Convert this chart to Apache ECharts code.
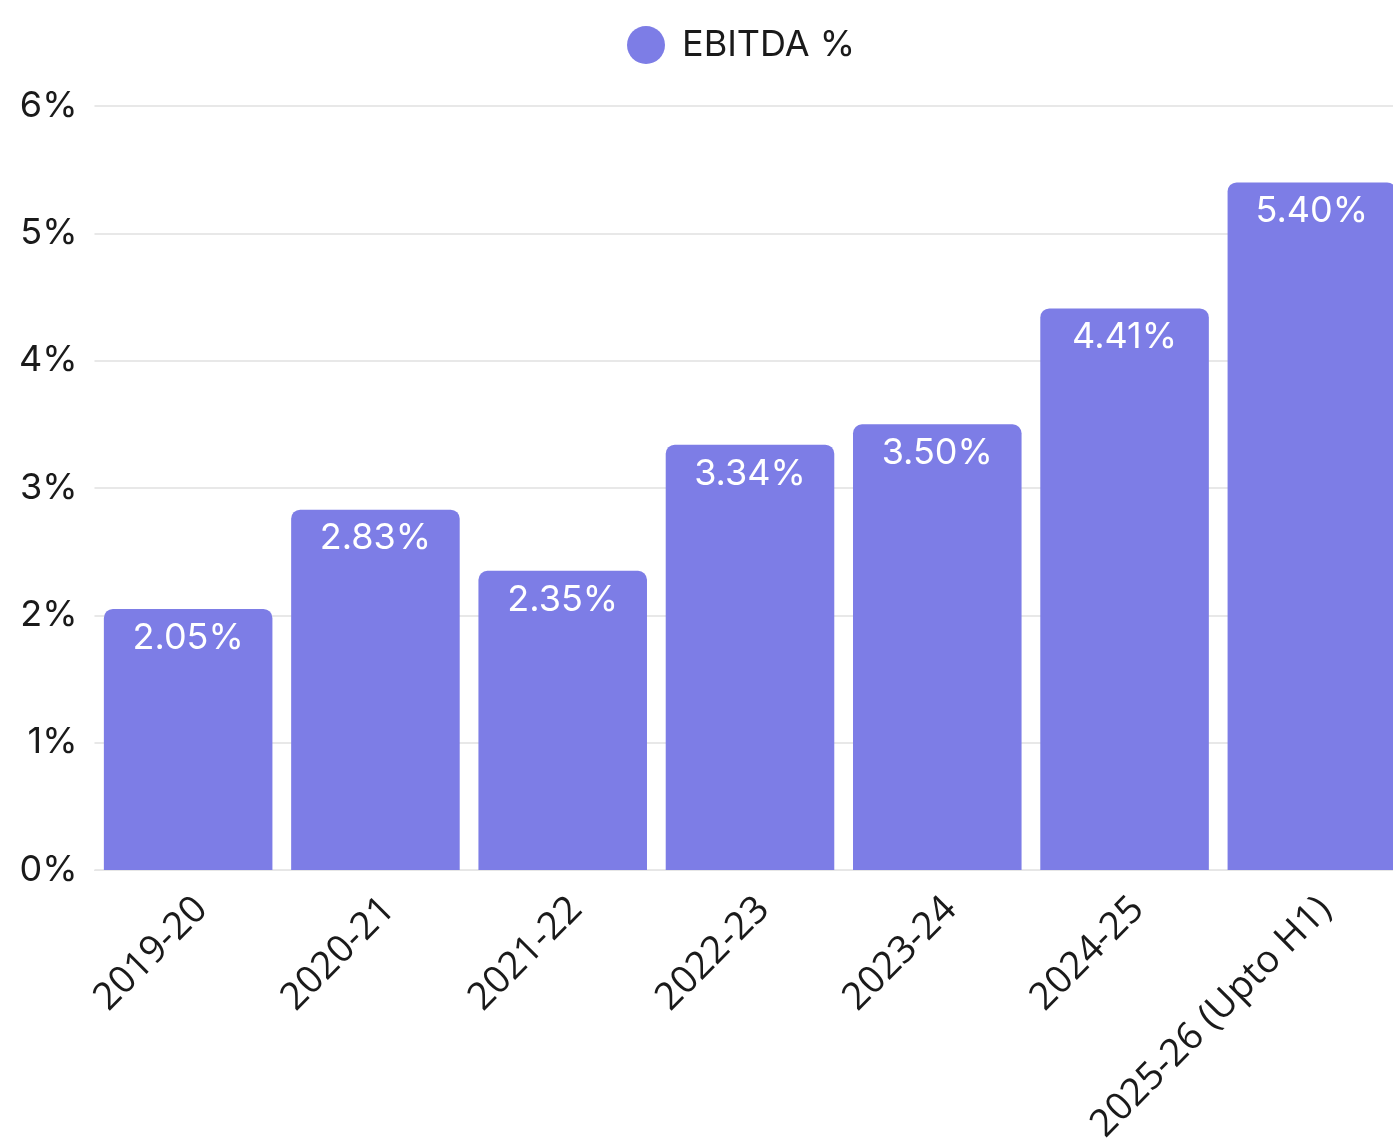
<!DOCTYPE html>
<html>
<head>
<meta charset="utf-8">
<script src="https://cdn.jsdelivr.net/npm/echarts@6/dist/echarts.min.js"></script>
<style>
html,body{margin:0;padding:0;background:#fff;}
#c{width:1393px;height:1141px;}
</style>
</head>
<body>
<div id="c"></div>
<script>
const categories = ['2019-20','2020-21','2021-22','2022-23','2023-24','2024-25','2025-26 (Upto H1)'];
const ebitda = [2.05, 2.83, 2.35, 3.34, 3.50, 4.41, 5.40];
const seriesName = 'EBITDA %';

const chart = echarts.init(document.getElementById('c'), null, {renderer:'canvas'});
const font = 'Inter, "Noto Sans", sans-serif';
chart.setOption({
  animation: false,
  backgroundColor: '#ffffff',
  legend: {
    top: 21, left: 622,
    icon: 'circle', itemWidth: 38, itemHeight: 38, itemGap: 10,
    textStyle: {fontFamily: font, fontSize: 36, color: '#1a1a1a', padding: [0, 0, 0, 12]},
    data: [seriesName]
  },
  grid: {left: 94.5, width: 1311, top: 106, height: 764, containLabel: false, outerBoundsMode: 'none'},
  xAxis: {
    type: 'category', data: categories,
    axisLine: {show: true, lineStyle: {color: '#e6e6e6'}},
    axisTick: {show: false},
    axisLabel: {rotate: 45, interval: 0, margin: 20, verticalAlign: 'top', fontFamily: '"Open Sans", sans-serif', fontSize: 38, color: '#1a1a1a'}
  },
  yAxis: {
    type: 'value', min: 0, max: 6, interval: 1,
    axisLabel: {formatter: '{value}%', fontFamily: font, fontSize: 36, color: '#1a1a1a', margin: 17},
    splitLine: {lineStyle: {color: '#e8e8e8', width: 2}},
    axisLine: {show: false}, axisTick: {show: false}
  },
  series: [{
    name: seriesName, type: 'bar', data: ebitda,
    barCategoryGap: '10%',
    itemStyle: {color: '#7d7de6', borderRadius: [9, 9, 0, 0]},
    label: {
      show: true, position: 'insideTop', distance: 11,
      formatter: p => p.value.toFixed(2) + '%',
      fontFamily: font, fontSize: 36, color: '#ffffff'
    }
  }]
});
</script>
</body>
</html>
